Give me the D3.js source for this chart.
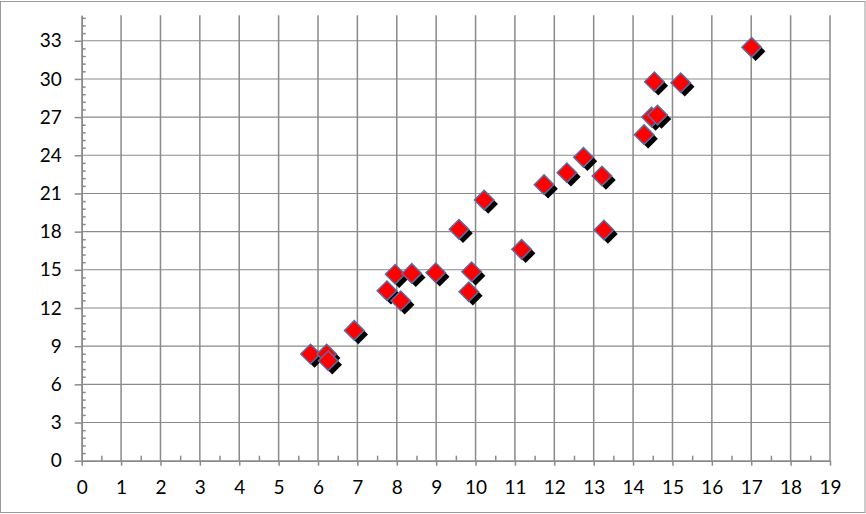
<!DOCTYPE html>
<html>
<head>
<meta charset="utf-8">
<script src="https://cdn.jsdelivr.net/npm/d3@7"></script>
<style>
  body { margin: 0; background: #fff; }
</style>
</head>
<body>
<div id="viz"></div>
<script>
// points
let xValues = [5.81, 6.22, 6.26, 6.92, 7.75, 7.96, 8.10, 8.38, 8.99, 9.58, 9.83, 9.90, 10.22,
  11.17, 11.74, 12.32, 12.74, 13.21, 13.26, 14.28, 14.47, 14.62, 14.54, 15.21, 17.01];
let yValues = [8.38, 8.38, 7.85, 10.24, 13.36, 14.65, 12.57, 14.72, 14.77, 18.18, 13.28, 14.85, 20.48,
  16.61, 21.69, 22.63, 23.84, 22.37, 18.13, 25.62, 27.00, 27.16, 29.78, 29.70, 32.48];
let xTicks = d3.range(0, 20, 1);
let yTicks = d3.range(0, 34, 3);

let width = 866;
let height = 514;
let gridColor = "#8a8a8a";

let svg = d3.select("#viz").append("svg")
    .attr("width", width)
    .attr("height", height);

// outer frame
svg.append("rect")
    .attr("x", 0.5).attr("y", 1.5)
    .attr("width", 864.5).attr("height", 511)
    .attr("fill", "#fff")
    .attr("stroke", "#9a9a9a");

let x = d3.scaleLinear().domain([0, 19]).range([81.7, 830]);
let y = d3.scaleLinear().domain([0, 35]).range([460.7, 15.3]);

// gridlines
svg.append("g").selectAll("line").data(yTicks.filter(d => d > 0))
    .join("line")
    .attr("x1", x(0)).attr("x2", x(19))
    .attr("y1", d => y(d)).attr("y2", d => y(d))
    .attr("stroke", gridColor).attr("stroke-width", 1.1);

svg.append("g").selectAll("line").data(xTicks.filter(d => d > 0))
    .join("line")
    .attr("x1", d => x(d)).attr("x2", d => x(d))
    .attr("y1", y(0)).attr("y2", y(35))
    .attr("stroke", gridColor).attr("stroke-width", 1.5);

// x axis
let xAxis = d3.axisBottom(x).tickValues(xTicks).tickSize(5).tickSizeOuter(0).tickFormat(d3.format("d"));
let gx = svg.append("g").attr("transform", `translate(0,${y(0)})`).call(xAxis);
gx.selectAll("text").attr("dy", "1.35em");

let xMinor = d3.axisTop(x).tickValues(d3.range(0.5, 19, 1)).tickSize(5).tickSizeOuter(0).tickFormat("");
svg.append("g").attr("transform", `translate(0,${y(0)})`).call(xMinor);

// y axis
let yAxis = d3.axisLeft(y).tickValues(yTicks).tickSize(7).tickSizeOuter(0).tickPadding(13);
svg.append("g").attr("transform", `translate(${x(0)},0)`).call(yAxis);

let yMinor = d3.axisRight(y).tickValues(d3.range(0, 35, 0.6).filter((d, i) => i % 5 != 0)).tickSize(4).tickSizeOuter(0).tickFormat("");
svg.append("g").attr("transform", `translate(${x(0)},0)`).call(yMinor);

svg.selectAll(".domain").attr("stroke", gridColor).attr("stroke-width", 1.5);
svg.selectAll(".tick line").attr("stroke", gridColor).attr("stroke-width", 1.5);
svg.selectAll(".tick text")
    .attr("fill", "#000")
    .attr("font-family", "Lato")
    .attr("font-size", "19px");

// markers
let points = xValues.map((d, i) => ({x: d, y: yValues[i]}));
let diamond = d3.symbol().type(d3.symbolSquare).size(190);

let marks = svg.append("g").selectAll("g").data(points)
    .join("g")
    .attr("transform", d => `translate(${x(d.x)},${y(d.y)})`);

marks.append("path")
    .attr("d", diamond)
    .attr("transform", "translate(4,4) rotate(45)")
    .attr("fill", "#000");

marks.append("path")
    .attr("d", diamond)
    .attr("transform", "rotate(45)")
    .attr("fill", "#ff0000")
    .attr("stroke", "#5f6a9e")
    .attr("stroke-width", 1.5);
</script>
</body>
</html>
